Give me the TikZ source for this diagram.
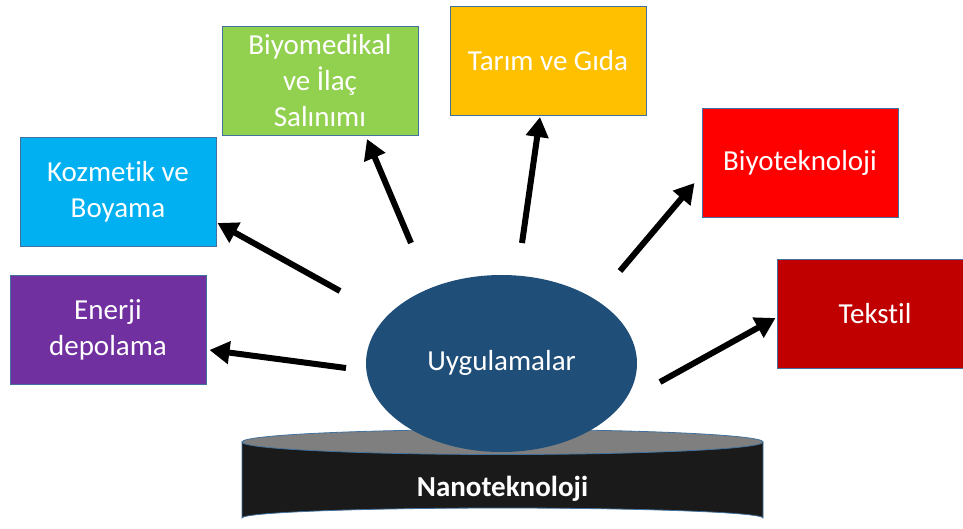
\documentclass[tikz,border=0pt]{standalone}
\usepackage{fontspec}
\setmainfont{Carlito}[Ligatures=NoCommon]
\usetikzlibrary{arrows.meta,shapes.geometric}
\definecolor{bordc}{HTML}{41719C}
\definecolor{enc}{HTML}{7030A0}
\definecolor{kozc}{HTML}{00B0F0}
\definecolor{bioc}{HTML}{92D050}
\definecolor{tarc}{HTML}{FFC000}
\definecolor{btc}{HTML}{FF0000}
\definecolor{tekc}{HTML}{C00000}
\definecolor{uygc}{HTML}{1F4E79}
\definecolor{cyltop}{HTML}{7F7F7F}
\definecolor{cylbody}{HTML}{1A1A1A}
\begin{document}
\begin{tikzpicture}[x=1pt,y=-1pt,
  box/.style={draw=bordc,line width=1pt,minimum width=196pt,minimum height=109pt,
    text=white,align=center,font=\fontsize{29}{36}\selectfont,inner sep=0pt},
  arr/.style={line width=6pt,-{Triangle[length=20pt,width=22pt]}}]
\useasboundingbox (0,0) rectangle (963,528);
% boxes
\node[box,fill=enc] (en) at (108,330) {Enerji\\depolama};
\node[box,fill=kozc] (koz) at (118,192) {Kozmetik ve\\Boyama};
\node[box,fill=bioc] (bio) at (320,81) {Biyomedikal\\ve İlaç\\Salınımı};
\node[box,fill=tarc] (tar) at (548,61) {Tarım ve Gıda};
\node[box,fill=btc] (bt) at (800,163) {Biyoteknoloji};
\node[box,fill=tekc] (tek) at (875,314) {Tekstil};
% cylinder base
\fill[cylbody,draw=bordc,line width=0.8pt] (242,442) -- (242,518)
  arc[start angle=180,end angle=360,x radius=260.5,y radius=10] -- (763,442) -- cycle;
\filldraw[fill=cyltop,draw=bordc,line width=0.8pt] (502.5,442) ellipse[x radius=260.5,y radius=12.5];
\node[text=white,font=\fontsize{29}{36}\selectfont\bfseries] (nano) at (502.5,489) {Nanoteknoloji};
% central ellipse
\node[ellipse,fill=uygc,minimum width=271pt,minimum height=177pt,inner sep=0pt,
  text=white,font=\fontsize{29}{36}\selectfont] (uyg) at (501.5,363.5) {\raisebox{7pt}{Uygulamalar}};
% arrow tails
\coordinate (t1) at (346,368);
\coordinate (t2) at (340,291);
\coordinate (t3) at (411,243);
\coordinate (t4) at (522,243);
\coordinate (t5) at (620,271);
\coordinate (t6) at (660,382);
% arrows
\draw[arr] (t1) -- ([xshift=3pt,yshift=-20pt]en.east);
\draw[arr] (t2) -- ([xshift=1pt,yshift=-31pt]koz.east);
\draw[arr] (t3) -- ([xshift=47pt,yshift=-3pt]bio.south);
\draw[arr] (t4) -- ([xshift=-8pt,yshift=-1pt]tar.south);
\draw[arr] (t5) -- ([xshift=-7pt,yshift=-20pt]bt.west);
\draw[arr] (t6) -- ([xshift=-1pt,yshift=-4pt]tek.west);
\end{tikzpicture}
\end{document}
